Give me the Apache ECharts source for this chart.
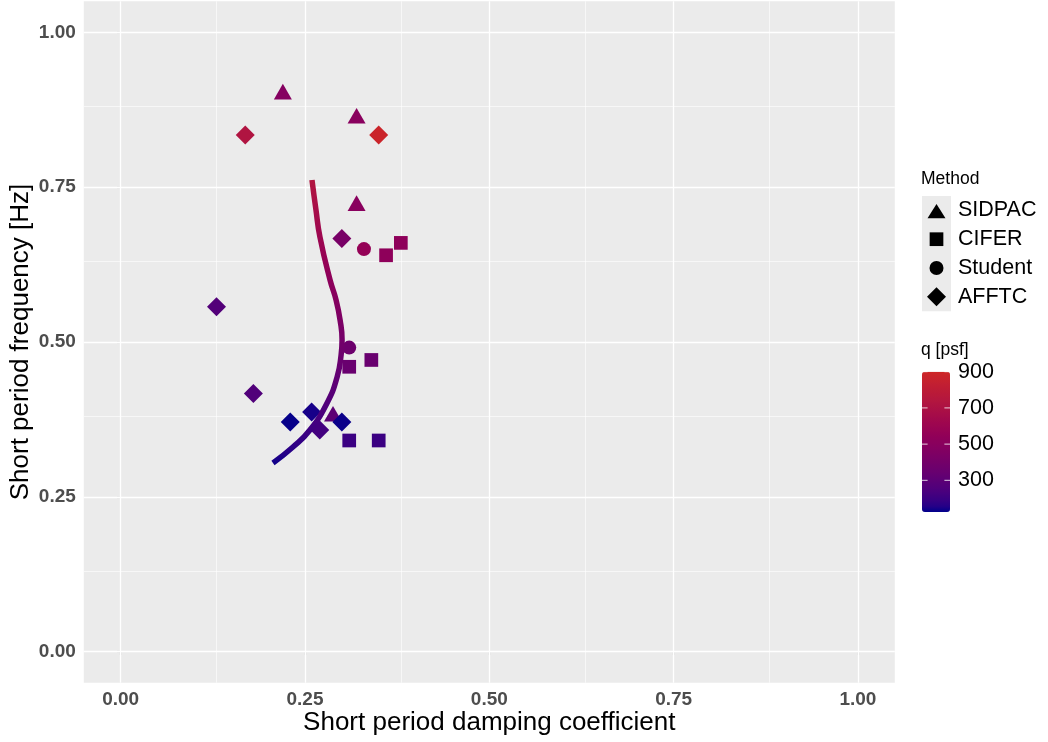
<!DOCTYPE html>
<html><head><meta charset="utf-8">
<script src="https://cdn.jsdelivr.net/npm/echarts@6/dist/echarts.min.js"></script>
<style>html,body{margin:0;padding:0;background:#fff}#c{width:1048px;height:742px}</style>
</head><body><div id="c"></div>
<script>
// ---------- data ----------
const methods = ['SIDPAC', 'CIFER', 'Student', 'AFFTC'];

const sidpac_x = [0.220, 0.320, 0.320, 0.288];
const sidpac_y = [0.900, 0.861, 0.720, 0.380];
const sidpac_q = [480, 500, 500, 300];

const cifer_x = [0.380, 0.360, 0.310, 0.340, 0.310, 0.350];
const cifer_y = [0.660, 0.640, 0.460, 0.471, 0.341, 0.341];
const cifer_q = [530, 530, 350, 350, 200, 200];

const student_x = [0.330, 0.310];
const student_y = [0.650, 0.491];
const student_q = [560, 370];

const afftc_x = [0.169, 0.350, 0.300, 0.130, 0.180, 0.230, 0.259, 0.270, 0.300];
const afftc_y = [0.834, 0.834, 0.667, 0.557, 0.417, 0.371, 0.387, 0.358, 0.371];
const afftc_q = [720, 880, 420, 270, 260, 130, 145, 220, 135];

// fitted curve (damping, frequency, q)
const curve_x = [0.2595, 0.2649, 0.2703, 0.2840, 0.2922, 0.2976, 0.3003, 0.2990, 0.2936, 0.2800, 0.2567, 0.2337, 0.2066];
const curve_y = [0.7615, 0.7131, 0.6695, 0.6001, 0.5677, 0.5355, 0.5032, 0.4790, 0.4435, 0.4015, 0.3579, 0.3305, 0.3047];
const curve_q = [730, 665, 610, 525, 485, 440, 400, 365, 320, 265, 205, 170, 135];

const xTicks = [0, 0.25, 0.5, 0.75, 1];
const yTicks = [0, 0.25, 0.5, 0.75, 1];
const xMinor = [0.125, 0.375, 0.625, 0.875];
const yMinor = [0.125, 0.375, 0.625, 0.875];
const qTicks = [300, 500, 700, 900];
const qRange = [125, 900];

// ---------- colour scale (CIELAB interpolation like ggplot) ----------
const LOW = '#00008B', HIGH = '#CD2626';
function s2l(c){c/=255;return c<=0.04045?c/12.92:Math.pow((c+0.055)/1.055,2.4);}
function l2s(c){c=Math.max(0,Math.min(1,c));return Math.round(255*(c<=0.0031308?12.92*c:1.055*Math.pow(c,1/2.4)-0.055));}
const Xn=0.95047,Yn=1,Zn=1.08883;
function ff(t){return t>0.008856?Math.cbrt(t):7.787*t+16/116;}
function fi(t){return t>0.206893?t*t*t:(t-16/116)/7.787;}
function hexToLab(h){
  const r=s2l(parseInt(h.substr(1,2),16)),g=s2l(parseInt(h.substr(3,2),16)),b=s2l(parseInt(h.substr(5,2),16));
  const X=0.4124*r+0.3576*g+0.1805*b, Y=0.2126*r+0.7152*g+0.0722*b, Z=0.0193*r+0.1192*g+0.9505*b;
  const fx=ff(X/Xn),fy=ff(Y/Yn),fz=ff(Z/Zn);
  return [116*fy-16,500*(fx-fy),200*(fy-fz)];
}
function labToHex(L,a,bb){
  const fy=(L+16)/116, fx=fy+a/500, fz=fy-bb/200;
  const X=Xn*fi(fx),Y=Yn*fi(fy),Z=Zn*fi(fz);
  const r=3.2406*X-1.5372*Y-0.4986*Z, g=-0.9689*X+1.8758*Y+0.0415*Z, b=0.0557*X-0.2040*Y+1.0570*Z;
  return '#'+[l2s(r),l2s(g),l2s(b)].map(v=>v.toString(16).padStart(2,'0')).join('');
}
const labLo=hexToLab(LOW), labHi=hexToLab(HIGH);
function qColor(q){
  const t=Math.max(0,Math.min(1,(q-qRange[0])/(qRange[1]-qRange[0])));
  return labToHex(labLo[0]+t*(labHi[0]-labLo[0]),labLo[1]+t*(labHi[1]-labLo[1]),labLo[2]+t*(labHi[2]-labLo[2]));
}
const N=25;
const qStops=[];for(let i=0;i<N;i++){qStops.push(qColor(qRange[0]+i/(N-1)*(qRange[1]-qRange[0])));}

// curve gradient along y (q monotone with y along the curve)
const cPairs=curve_y.map((y,i)=>[y,curve_q[i]]).sort((a,b)=>a[0]-b[0]);
const cyMin=cPairs[0][0], cyMax=cPairs[cPairs.length-1][0];
function qAtY(y){
  for(let i=0;i<cPairs.length-1;i++){
    if(y>=cPairs[i][0]&&y<=cPairs[i+1][0]){const t=(y-cPairs[i][0])/(cPairs[i+1][0]-cPairs[i][0]);return cPairs[i][1]+t*(cPairs[i+1][1]-cPairs[i][1]);}
  }
  return y<cyMin?cPairs[0][1]:cPairs[cPairs.length-1][1];
}
const cStops=[];for(let i=0;i<N;i++){cStops.push(qColor(qAtY(cyMin+i/(N-1)*(cyMax-cyMin))));}

// ---------- layout ----------
const FONT="'Liberation Sans', Arial, Helvetica, sans-serif";
const G={left:83.8, top:1.3, right:153.2, bottom:59.3};

const gridLines=[]
  .concat(yTicks.map(v=>({yAxis:v,lineStyle:{width:1.3}})))
  .concat(yMinor.map(v=>({yAxis:v,lineStyle:{width:0.6}})))
  .concat(xTicks.map(v=>({xAxis:v,lineStyle:{width:1.3}})))
  .concat(xMinor.map(v=>({xAxis:v,lineStyle:{width:0.6}})));

function pts(xs,ys,qs){return xs.map((x,i)=>[x,ys[i],qs[i]]);}
const shapes={SIDPAC:{symbol:'triangle',size:[18,15.6],offset:[0,-2.6]},
  CIFER:{symbol:'rect',size:13.7,offset:[0,0]},
  Student:{symbol:'circle',size:14,offset:[0,0]},
  AFFTC:{symbol:'diamond',size:[19,19],offset:[0,0]}};
const pointData={SIDPAC:pts(sidpac_x,sidpac_y,sidpac_q),CIFER:pts(cifer_x,cifer_y,cifer_q),
  Student:pts(student_x,student_y,student_q),AFFTC:pts(afftc_x,afftc_y,afftc_q)};

const series=[{
  type:'line', name:'fit', data:curve_x.map((x,i)=>[x,curve_y[i]]), smooth:true, showSymbol:false,
  lineStyle:{width:5.5, cap:'butt'}, z:5, silent:true,
  markLine:{silent:true, symbol:['none','none'], z:1, label:{show:false}, animation:false,
    lineStyle:{color:'#FFFFFF', type:'solid'}, emphasis:{disabled:true}, data:gridLines}
}];
methods.forEach(m=>{
  series.push({type:'scatter', name:m, data:pointData[m], symbol:shapes[m].symbol, symbolSize:shapes[m].size,
    symbolOffset:shapes[m].offset, z:3, silent:true, itemStyle:{opacity:1}});
});

// ---------- legend (graphic) ----------
const graphic=[];
graphic.push({type:'text', left:921, top:170, style:{text:'Method', font:'17.5px '+FONT, fill:'#000'}});
const keyTop=196, keyH=28.8, keyX=936.5;
graphic.push({type:'rect', shape:{x:922, y:keyTop, width:29, height:keyH*methods.length}, style:{fill:'#EBEBEB'}});
methods.forEach((m,i)=>{
  const cy=keyTop+keyH*(i+0.5);
  let el;
  if(m==='SIDPAC') el={type:'polygon', shape:{points:[[keyX,cy-7.8+1.3],[keyX+9,cy+7.8+1.3-2.6+1.3],[keyX-9,cy+7.8+1.3-2.6+1.3]]}};
  else if(m==='CIFER') el={type:'rect', shape:{x:keyX-6.85,y:cy-6.85,width:13.7,height:13.7}};
  else if(m==='Student') el={type:'circle', shape:{cx:keyX,cy:cy,r:7}};
  else el={type:'polygon', shape:{points:[[keyX,cy-9.5],[keyX+9.5,cy],[keyX,cy+9.5],[keyX-9.5,cy]]}};
  el.style={fill:'#000'};
  graphic.push(el);
  graphic.push({type:'text', x:958, y:cy, style:{text:m, font:'21.5px '+FONT, fill:'#000', verticalAlign:'middle'}});
});
// colour bar title, ticks and labels
const barTop=371.7, barH=140.3, barL=922, barW=28;
graphic.push({type:'text', left:921, top:341, style:{text:'q [psf]', font:'17.5px '+FONT, fill:'#000'}});
qTicks.forEach(v=>{
  const y=barTop+(qRange[1]-v)/(qRange[1]-qRange[0])*barH;
  graphic.push({type:'line', shape:{x1:barL,y1:y,x2:barL+5.6,y2:y}, style:{stroke:'rgba(255,255,255,0.8)',lineWidth:1}, z:100});
  graphic.push({type:'line', shape:{x1:barL+barW-5.6,y1:y,x2:barL+barW,y2:y}, style:{stroke:'rgba(255,255,255,0.8)',lineWidth:1}, z:100});
  graphic.push({type:'text', x:958, y:y, style:{text:String(v), font:'21.5px '+FONT, fill:'#000', verticalAlign:'middle'}, z:100});
});

const axisLabelBase={fontFamily:FONT, fontSize:19, fontWeight:'bold', color:'#4D4D4D'};
const option={
  animation:false,
  backgroundColor:'#FFFFFF',
  grid:{left:G.left, top:G.top, right:G.right, bottom:G.bottom, show:true, backgroundColor:'#EBEBEB', borderWidth:0,
    containLabel:false, outerBoundsMode:'none'},
  xAxis:{type:'value', min:-0.05, max:1.05,
    name:'Short period damping coefficient', nameLocation:'middle', nameGap:27, nameMoveOverlap:false,
    nameTextStyle:{fontFamily:FONT, fontSize:26, color:'#000'},
    axisLine:{show:false},
    axisTick:{show:true, length:4, customValues:xTicks, lineStyle:{color:'#333333', width:1.07}},
    axisLabel:Object.assign({customValues:xTicks, margin:8, formatter:v=>v.toFixed(2)}, axisLabelBase),
    splitLine:{show:false}},
  yAxis:{type:'value', min:-0.05, max:1.05,
    name:'Short period frequency [Hz]', nameLocation:'middle', nameGap:50, nameMoveOverlap:false,
    nameTextStyle:{fontFamily:FONT, fontSize:26, color:'#000'},
    axisLine:{show:false},
    axisTick:{show:true, length:4, customValues:yTicks, lineStyle:{color:'#333333', width:1.07}},
    axisLabel:Object.assign({customValues:yTicks, margin:8, formatter:v=>v.toFixed(2)}, axisLabelBase),
    splitLine:{show:false}},
  visualMap:[
    {type:'continuous', seriesIndex:[1,2,3,4], dimension:2, min:qRange[0], max:qRange[1],
     inRange:{color:qStops}, show:true, left:barL, top:barTop, itemWidth:barW, itemHeight:barH,
     padding:0, calculable:false, hoverLink:false, text:null, showLabel:false},
    {type:'continuous', seriesIndex:0, dimension:1, min:cyMin, max:cyMax, inRange:{color:cStops}, show:false}
  ],
  graphic:graphic,
  series:series
};
const chart=echarts.init(document.getElementById('c'), null, {renderer:'canvas'});
chart.setOption(option);
</script>
</body></html>
